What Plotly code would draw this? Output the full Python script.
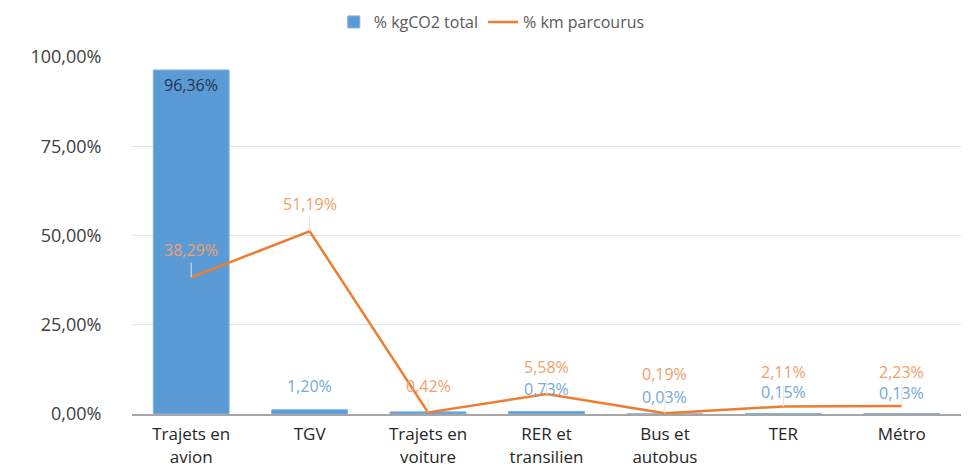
import plotly.graph_objects as go

categories = ["Trajets en<br>avion", "TGV", "Trajets en<br>voiture", "RER et<br>transilien",
              "Bus et<br>autobus", "TER", "Métro"]
co2_pct = [96.36, 1.20, 0.60, 0.73, 0.03, 0.15, 0.13]
km_pct = [38.29, 51.19, 0.42, 5.58, 0.19, 2.11, 2.23]
tick_vals = [0, 25, 50, 75, 100]
tick_text = ["0,00%", "25,00%", "50,00%", "75,00%", "100,00%"]

def fr(v):
    return f"{v:.2f}%".replace(".", ",")

BLUE = "#5b9bd5"
ORANGE = "#ed7d31"
FONT = "Open Sans"

fig = go.Figure()
fig.add_trace(go.Bar(x=categories, y=co2_pct, name="% kgCO2 total",
                     marker=dict(color=BLUE, line=dict(color="#7fb1e0", width=1)),
                     width=0.64))
fig.add_trace(go.Scatter(x=categories, y=km_pct, name="% km parcourus", mode="lines",
                         line=dict(color=ORANGE, width=2.5)))

# vertical offsets (px) for labels, tuned to limit overlaps
bar_shift = [-15, 24, None, 22, 17, 21, 21]
line_shift = [-27, -27, -27, -27, -39, -34, -34]

ann = []
for c, v, s in zip(categories, co2_pct, bar_shift):
    if s is None:
        continue  # hidden under the line label in the source
    col = "#1f3350" if v > 50 else "#74a9dc"
    ann.append(dict(x=c, y=v, text=fr(v), showarrow=False, yshift=s,
                    font=dict(family=FONT, size=16, color=col)))
for c, v, s in zip(categories, km_pct, line_shift):
    ann.append(dict(x=c, y=v, text=fr(v), showarrow=True, ax=0, ay=s,
                    arrowhead=0, arrowwidth=1, arrowcolor="#e4e4e4",
                    font=dict(family=FONT, size=16, color="#f29f6a")))

# the page body adds an 8px margin; compensate so the plot area sits where the source has it
fig.update_layout(
    width=969, height=461,
    margin=dict(l=124, r=16, t=49, b=55, autoexpand=False),
    paper_bgcolor="white", plot_bgcolor="white",
    font=dict(family=FONT, color="#404040"),
    legend=dict(orientation="h", x=0.434, xanchor="center", y=1.098, yanchor="middle",
                font=dict(family=FONT, size=16, color="#595959")),
    annotations=ann,
    xaxis=dict(showgrid=False, showline=True, linecolor="#a6a6a6", linewidth=2,
               automargin=False,
               tickfont=dict(family=FONT, size=17, color="#262626"),
               ticks="outside", ticklen=4, tickcolor="rgba(0,0,0,0)"),
    yaxis=dict(range=[0, 100], tickvals=tick_vals, ticktext=tick_text, automargin=False,
               showgrid=True, gridcolor="#e3e3e3", gridwidth=1, zeroline=False,
               tickfont=dict(family=FONT, size=18, color="#404040"),
               ticks="outside", ticklen=26, tickcolor="rgba(0,0,0,0)"),
)

fig.write_html("out.html")
